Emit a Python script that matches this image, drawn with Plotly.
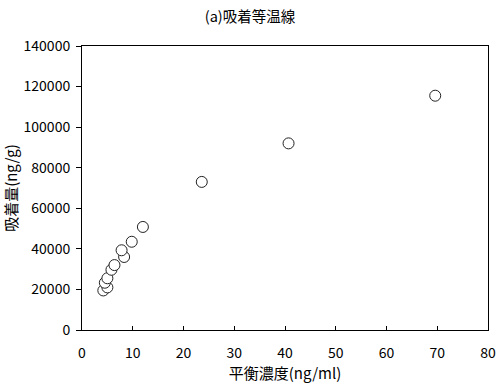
import plotly.graph_objects as go

conc = [4.2, 5.0, 4.5, 5.0, 5.8, 6.4, 8.3, 7.8, 9.8, 12.0, 23.6, 40.7, 69.6]
adsorbed = [19500, 21000, 23300, 25500, 29700, 32000, 36000, 39300, 43500, 50800, 73000, 92000, 115500]

x_ticks = [0, 10, 20, 30, 40, 50, 60, 70, 80]
y_ticks = [0, 20000, 40000, 60000, 80000, 100000, 120000, 140000]

font_family = "Noto Sans CJK JP, sans-serif"

fig = go.Figure()
fig.add_trace(go.Scatter(
    x=conc, y=adsorbed, mode="markers",
    marker=dict(symbol="circle", size=11, color="white",
                line=dict(color="#222222", width=1)),
    showlegend=False,
))

fig.update_layout(
    width=500, height=384,
    margin=dict(l=82, r=12, t=46, b=54),
    paper_bgcolor="white", plot_bgcolor="white",
    font=dict(family=font_family, size=13, color="black"),
    title=dict(text="(a)吸着等温線", x=0.5, xanchor="center", y=0.955, yanchor="middle",
               font=dict(size=14.5, family=font_family)),
    xaxis=dict(
        range=[0, 80], tickvals=x_ticks, ticks="inside", ticklen=4, tickcolor="black",
        showline=True, linecolor="black", linewidth=1, mirror=True,
        showgrid=False, zeroline=False, ticklabelstandoff=10, automargin=False,
        title=dict(text="平衡濃度(ng/ml)", standoff=4, font=dict(size=15)),
        tickfont=dict(size=14),
    ),
    yaxis=dict(
        range=[0, 140000], tickvals=y_ticks, ticks="outside", ticklen=5, tickcolor="black",
        showline=True, linecolor="black", linewidth=1, mirror=True,
        showgrid=False, zeroline=False, tickformat="d", ticklabelstandoff=3, automargin=False,
        title=dict(text="吸着量(ng/g)", standoff=6, font=dict(size=15)),
        tickfont=dict(size=14),
    ),
)

fig.write_html("out.html")
